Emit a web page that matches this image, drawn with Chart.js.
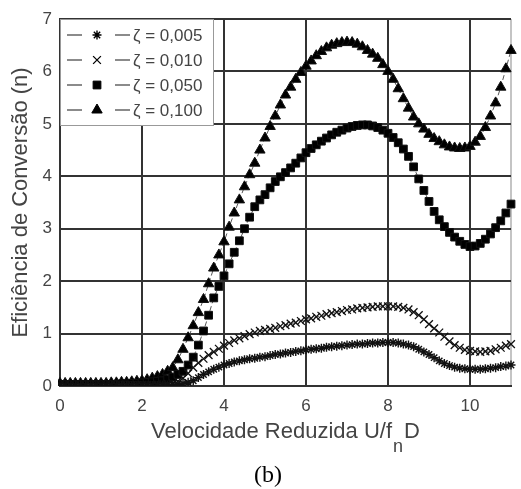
<!DOCTYPE html>
<html>
<head>
<meta charset="utf-8">
<script src="https://cdn.jsdelivr.net/npm/chart.js@4.4.1/dist/chart.umd.min.js"></script>
<style>
  html, body { margin: 0; padding: 0; background: #fff; }
  #wrap { width: 521px; height: 489px; }
</style>
</head>
<body>
<div id="wrap"><canvas id="chart" width="521" height="489"></canvas></div>
<script>
// reduced velocity U/fnD
const xValues = [
  0, 0.125, 0.25, 0.375, 0.5, 0.625, 0.75, 0.875,
  1, 1.125, 1.25, 1.375, 1.5, 1.625, 1.75, 1.875,
  2, 2.125, 2.25, 2.375, 2.5, 2.625, 2.75, 2.875,
  3, 3.125, 3.25, 3.375, 3.5, 3.625, 3.75, 3.875,
  4, 4.125, 4.25, 4.375, 4.5, 4.625, 4.75, 4.875,
  5, 5.125, 5.25, 5.375, 5.5, 5.625, 5.75, 5.875,
  6, 6.125, 6.25, 6.375, 6.5, 6.625, 6.75, 6.875,
  7, 7.125, 7.25, 7.375, 7.5, 7.625, 7.75, 7.875,
  8, 8.125, 8.25, 8.375, 8.5, 8.625, 8.75, 8.875,
  9, 9.125, 9.25, 9.375, 9.5, 9.625, 9.75, 9.875,
  10, 10.125, 10.25, 10.375, 10.5, 10.625, 10.75, 10.875,
  11
];

const zeta005 = [
  0.01, 0.01, 0.01, 0.01, 0.01, 0.01, 0.01, 0.01,
  0.01, 0.01, 0.01, 0.01, 0.01, 0.01, 0.01, 0.01,
  0.01, 0.01, 0.01, 0.01, 0.02, 0.02, 0.03, 0.03,
  0.05, 0.07, 0.1, 0.16, 0.22, 0.27, 0.32, 0.36,
  0.4, 0.43, 0.46, 0.48, 0.5, 0.52, 0.53, 0.55,
  0.56, 0.58, 0.6, 0.61, 0.63, 0.64, 0.66, 0.67,
  0.69, 0.7, 0.71, 0.72, 0.74, 0.75, 0.76, 0.77,
  0.78, 0.79, 0.8, 0.8, 0.81, 0.82, 0.82, 0.83,
  0.83, 0.83, 0.82, 0.8, 0.78, 0.75, 0.7, 0.65,
  0.6, 0.54, 0.48, 0.43, 0.39, 0.36, 0.34, 0.33,
  0.32, 0.32, 0.32, 0.33, 0.34, 0.35, 0.37, 0.38,
  0.4
];

const zeta010 = [
  0.02, 0.02, 0.02, 0.02, 0.02, 0.02, 0.02, 0.02,
  0.02, 0.02, 0.02, 0.02, 0.02, 0.02, 0.02, 0.02,
  0.02, 0.02, 0.02, 0.03, 0.03, 0.04, 0.05, 0.09,
  0.15, 0.24, 0.35, 0.44, 0.52, 0.59, 0.65, 0.71,
  0.77, 0.82, 0.87, 0.91, 0.95, 0.99, 1.02, 1.05,
  1.07, 1.09, 1.11, 1.14, 1.16, 1.19, 1.21, 1.24,
  1.27, 1.29, 1.32, 1.34, 1.37, 1.39, 1.41, 1.43,
  1.45, 1.46, 1.48, 1.49, 1.5, 1.51, 1.52, 1.52,
  1.52, 1.52, 1.51, 1.49, 1.46, 1.41, 1.35, 1.27,
  1.18, 1.1, 1.02, 0.94, 0.85, 0.78, 0.73, 0.69,
  0.67, 0.66, 0.65, 0.66, 0.67, 0.7, 0.73, 0.77,
  0.8
];

const zeta050 = [
  0.03, 0.03, 0.03, 0.03, 0.03, 0.03, 0.03, 0.03,
  0.03, 0.03, 0.03, 0.03, 0.04, 0.04, 0.05, 0.05,
  0.06, 0.07, 0.08, 0.09, 0.1, 0.13, 0.17, 0.22,
  0.28, 0.4, 0.55, 0.78, 1.05, 1.35, 1.68, 1.9,
  2.1, 2.33, 2.55, 2.77, 3.0, 3.22, 3.42, 3.55,
  3.65, 3.78, 3.9, 3.99, 4.07, 4.16, 4.25, 4.35,
  4.45, 4.53, 4.6, 4.67, 4.73, 4.79, 4.84, 4.88,
  4.92, 4.95, 4.97, 4.98, 4.98, 4.96, 4.93, 4.88,
  4.82, 4.74, 4.64, 4.52, 4.38, 4.18, 3.95, 3.73,
  3.52, 3.33, 3.17, 3.04, 2.93, 2.84, 2.76, 2.7,
  2.66, 2.67, 2.72, 2.8, 2.9, 3.02, 3.15, 3.3,
  3.47
];

const zeta100 = [
  0.05, 0.05, 0.05, 0.05, 0.05, 0.05, 0.05, 0.05,
  0.05, 0.05, 0.06, 0.06, 0.07, 0.07, 0.08, 0.09,
  0.1, 0.12, 0.15, 0.18, 0.22, 0.28, 0.35, 0.5,
  0.7, 0.92, 1.15, 1.4, 1.65, 1.95, 2.25, 2.5,
  2.75, 3.03, 3.3, 3.55, 3.8, 4.03, 4.25, 4.5,
  4.73, 4.95, 5.15, 5.36, 5.55, 5.7, 5.85, 5.98,
  6.1, 6.2, 6.3, 6.38, 6.45, 6.5, 6.53, 6.55,
  6.56, 6.55, 6.52, 6.47, 6.4, 6.33, 6.25, 6.13,
  6.0, 5.85, 5.67, 5.48, 5.3, 5.13, 5.0, 4.9,
  4.8, 4.72, 4.66, 4.6, 4.56, 4.54, 4.53, 4.54,
  4.57, 4.65, 4.76, 4.93, 5.15, 5.4, 5.7, 6.05,
  6.4
];

const seriesLabels = ['ζ = 0,005', 'ζ = 0,010', 'ζ = 0,050', 'ζ = 0,100'];
const xTicks = [0, 2, 4, 6, 8, 10];
const yTicks = [0, 1, 2, 3, 4, 5, 6, 7];
const yTitle = 'Eficiência de Conversão (n)';
const xTitle = ['Velocidade Reduzida U/f', 'n', 'D'];
const caption = '(b)';

const FONT = '"Liberation Sans", Arial, sans-serif';
const TEXT = '#444';
const GRID = '#333';

const markers = [
  { pointStyle: 'star', radius: 4.5, width: 1.4 },
  { pointStyle: 'crossRot', radius: 5.5, width: 1.3 },
  { pointStyle: 'rect', radius: 5.5, width: 1 },
  { pointStyle: 'triangle', radius: 6, width: 1 },
];

function makeDataset(label, values, m) {
  return {
    label,
    data: xValues.map((x, i) => ({ x, y: values[i] })),
    showLine: true,
    borderColor: '#555',
    borderWidth: 1,
    borderDash: [5, 3],
    pointStyle: m.pointStyle,
    pointRadius: m.radius,
    pointBorderWidth: m.width,
    pointBorderColor: '#111',
    pointBackgroundColor: '#000',
    clip: { left: 2, top: 8, right: 10, bottom: 0 },
  };
}

// legend drawn inside the plot, top-left corner
const legendBox = {
  id: 'legendBox',
  afterDraw(chart) {
    const { ctx, chartArea } = chart;
    const x0 = chartArea.left, y0 = chartArea.top;
    ctx.save();
    ctx.fillStyle = '#fff';
    ctx.fillRect(x0, y0, 153, 106);
    ctx.strokeStyle = '#999';
    ctx.lineWidth = 1;
    ctx.strokeRect(x0 + 0.5, y0 + 0.5, 153, 106);
    chart.data.datasets.forEach((ds, i) => {
      const cy = y0 + 16 + i * 25;
      ctx.strokeStyle = '#666';
      ctx.lineWidth = 1.5;
      ctx.setLineDash([]);
      ctx.beginPath();
      ctx.moveTo(x0 + 7, cy); ctx.lineTo(x0 + 22, cy);
      ctx.moveTo(x0 + 55, cy); ctx.lineTo(x0 + 70, cy);
      ctx.stroke();
      ctx.fillStyle = '#000';
      ctx.strokeStyle = '#000';
      ctx.lineWidth = ds.pointBorderWidth;
      Chart.helpers.drawPoint(ctx, {
        pointStyle: ds.pointStyle, radius: ds.pointRadius,
        borderWidth: ds.pointBorderWidth, rotation: 0,
      }, x0 + 37, cy);
      ctx.fillStyle = TEXT;
      ctx.font = `17px ${FONT}`;
      ctx.textBaseline = 'middle';
      ctx.textAlign = 'left';
      ctx.fillText(ds.label, x0 + 73, cy + 1);
    });
    ctx.restore();
  }
};

// x title with subscript n, plus the figure caption
const captions = {
  id: 'captions',
  afterDraw(chart) {
    const { ctx, chartArea } = chart;
    ctx.save();
    ctx.fillStyle = TEXT;
    ctx.textBaseline = 'alphabetic';
    ctx.textAlign = 'left';
    const big = `22px ${FONT}`, small = `18px ${FONT}`;
    ctx.font = big;
    const w1 = ctx.measureText(xTitle[0]).width;
    const w3 = ctx.measureText(xTitle[2]).width;
    ctx.font = small;
    const w2 = ctx.measureText(xTitle[1]).width;
    let x = (chartArea.left + chartArea.right) / 2 - (w1 + w2 + w3 + 2) / 2;
    const base = 438;
    ctx.font = big;
    ctx.fillText(xTitle[0], x, base);
    x += w1 + 1;
    ctx.font = small;
    ctx.fillText(xTitle[1], x, base + 14);
    x += w2 + 1;
    ctx.font = big;
    ctx.fillText(xTitle[2], x, base);

    ctx.fillStyle = '#000';
    ctx.font = '24px "Liberation Serif", "Times New Roman", serif';
    ctx.textAlign = 'center';
    ctx.fillText(caption, 268, 482);
    ctx.restore();
  }
};

const gridOpts = (edgeValue) => ({
  color: (c) => (c.tick && c.tick.value === edgeValue ? '#c4c4c4' : GRID),
  lineWidth: 2,
  drawTicks: false,
});

new Chart(document.getElementById('chart'), {
  type: 'scatter',
  data: {
    datasets: [
      makeDataset(seriesLabels[0], zeta005, markers[0]),
      makeDataset(seriesLabels[1], zeta010, markers[1]),
      makeDataset(seriesLabels[2], zeta050, markers[2]),
      makeDataset(seriesLabels[3], zeta100, markers[3]),
    ],
  },
  options: {
    responsive: false,
    devicePixelRatio: 1,
    animation: false,
    layout: { padding: { top: 19, right: 8, left: 0, bottom: 0 } },
    plugins: {
      legend: { display: false },
      tooltip: { enabled: false },
    },
    scales: {
      x: {
        type: 'linear',
        min: 0,
        max: 11,
        afterBuildTicks: (s) => { s.ticks = xTicks.concat([11]).map((v) => ({ value: v })); },
        afterFit: (s) => { s.height = 103; },
        grid: gridOpts(11),
        border: { color: GRID, width: 2 },
        ticks: {
          callback: (v) => (xTicks.includes(v) ? String(v) : ''),
          font: { family: FONT, size: 17 },
          color: TEXT,
          padding: 10,
          maxRotation: 0,
          autoSkip: false,
        },
      },
      y: {
        type: 'linear',
        min: 0,
        max: 7,
        afterBuildTicks: (s) => { s.ticks = yTicks.map((v) => ({ value: v })); },
        afterFit: (s) => { s.width = 60; },
        grid: gridOpts(-1),
        border: { color: GRID, width: 2 },
        ticks: {
          font: { family: FONT, size: 17 },
          color: TEXT,
          padding: 8,
        },
        title: {
          display: true,
          text: yTitle,
          font: { family: FONT, size: 22 },
          color: TEXT,
          padding: { top: 8, bottom: 0 },
        },
      },
    },
  },
  plugins: [legendBox, captions],
});
</script>
</body>
</html>
